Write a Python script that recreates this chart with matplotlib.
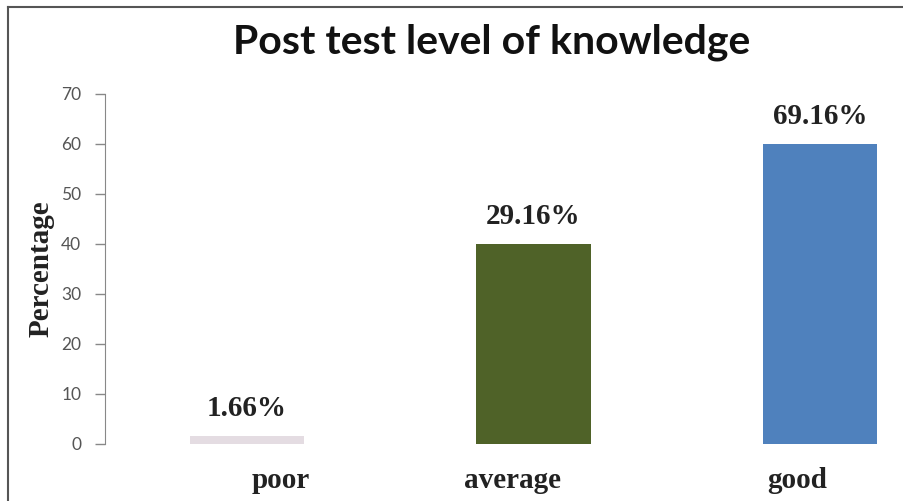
import matplotlib
matplotlib.use("Agg")
import matplotlib.pyplot as plt
from matplotlib.lines import Line2D

categories = ["poor", "average", "good"]
bar_heights = [1.66, 40, 60]
value_labels = ["1.66%", "29.16%", "69.16%"]
colors = ["#e4dce2", "#4f6228", "#4f81bd"]
yticks = [0, 10, 20, 30, 40, 50, 60, 70]
xlabel_shift_px = [34, -21, -23]

W, H = 904, 501
fig = plt.figure(figsize=(W / 100, H / 100), dpi=100)
ax = fig.add_axes([105 / W, 1 - 444 / H, (895 - 105) / W, (444 - 94) / H])

x = list(range(len(categories)))
ax.bar(x, bar_heights, width=0.4, color=colors, zorder=2)
for xi, h, lab in zip(x, bar_heights, value_labels):
    ax.annotate(lab, (xi, h), xytext=(0, 10), textcoords="offset points",
                ha="center", va="bottom", fontsize=21, fontweight="bold",
                family="Liberation Serif", color="#222222")

ax.set_xlim(-0.496, 2.262)
ax.set_ylim(0, 70)
ax.set_yticks(yticks)
ax.set_xticks(x)
ax.set_xticklabels([])
ax.tick_params(axis="x", length=0)
for xi, cat, dx in zip(x, categories, xlabel_shift_px):
    ax.annotate(cat, (xi, 0), xycoords=("data", "axes fraction"),
                xytext=(dx * 0.72, -44 * 0.72), textcoords="offset points",
                ha="center", va="baseline", fontsize=21, fontweight="bold",
                family="Liberation Serif", color="#222222", annotation_clip=False)
ax.tick_params(axis="y", length=7, width=1, color="#888888", labelcolor="#555555",
               labelsize=12.5, pad=10)
for t in ax.get_yticklabels():
    t.set_family("Lato")
for s in ["top", "right", "bottom"]:
    ax.spines[s].set_visible(False)
ax.spines["left"].set_color("#888888")
ax.set_ylabel("Percentage", fontsize=21, fontweight="bold",
              family="Liberation Serif", color="#222222", labelpad=5)

fig.text(492 / W, 1 - 42 / H, "Post test level of knowledge", ha="center",
         va="center", fontsize=29.5, family="Lato", fontweight="bold", color="#111111")

# outer frame (left and top)
fig.add_artist(Line2D([7.5 / W, 7.5 / W], [0, 1 - 6.5 / H], transform=fig.transFigure,
                      color="#555555", lw=1.5))
fig.add_artist(Line2D([7.5 / W, 1], [1 - 6.5 / H, 1 - 6.5 / H], transform=fig.transFigure,
                      color="#555555", lw=1.5))

fig.savefig("out.png", dpi=100)
